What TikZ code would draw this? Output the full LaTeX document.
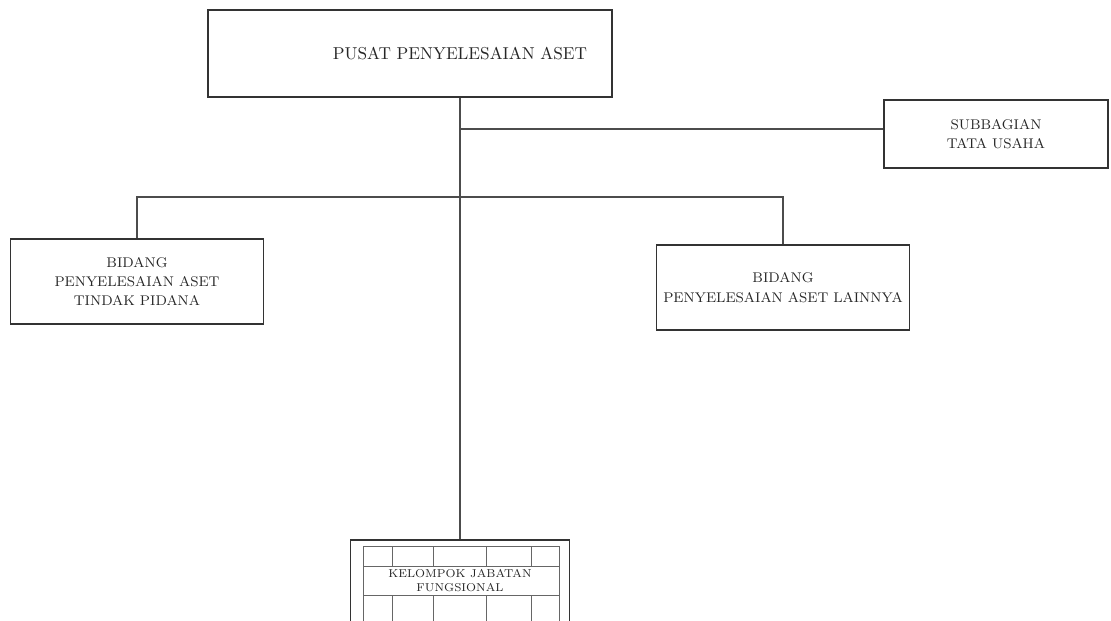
\documentclass[tikz,border=0pt]{standalone}
\begin{document}
\begin{tikzpicture}[x=0.02cm,y=-0.02cm,
  unit/.style={draw=black!80,line width=0.9pt,fill=white,inner sep=0pt,align=center,text=black!85,font=\fontsize{8}{11}\selectfont},
  link/.style={draw=black!70,line width=0.6pt},
  cell/.style={draw=black!60,line width=0.4pt}]
\useasboundingbox (0,0) rectangle (1111,620);
\clip (0,0) rectangle (1111,620);
\node [unit,minimum width=8.08cm,minimum height=1.74cm,
  label={[xshift=1cm,text=black!85,font=\fontsize{9.8}{12}\selectfont]center:PUSAT PENYELESAIAN ASET}] (pusat) at (410,53.5) {};
\node [unit,minimum width=4.48cm,minimum height=1.36cm] (subbag) at (996,134) {SUBBAGIAN\\TATA USAHA};
\node [unit,minimum width=5.06cm,minimum height=1.7cm] (tpd) at (137,281.5) {BIDANG\\PENYELESAIAN ASET\\TINDAK PIDANA};
\node [unit,minimum width=5.06cm,minimum height=1.7cm] (lain) at (783,287.5) {BIDANG\\PENYELESAIAN ASET LAINNYA};
\node [unit,minimum width=4.38cm,minimum height=1.86cm,anchor=north] (jf) at (460,539) {};
% kisi jabatan fungsional
\draw [cell] (363,546) rectangle (559,625);
\draw [cell] (363,566) -- (559,566) (363,595) -- (559,595);
\foreach \x in {392,433,486,531} \draw [cell] (\x,546) -- (\x,566) (\x,595) -- (\x,625);
\node [font=\fontsize{6.5}{8}\selectfont,align=center,inner sep=0pt,text=black!85] (jftext) at (460,580.5) {KELOMPOK JABATAN\\FUNGSIONAL};
% garis
\coordinate (sb) at (460,129);
\coordinate (bd) at (460,197);
\draw [link] (pusat.south -| jf.north) -- (jf.north);
\draw [link] (sb) -- (sb -| subbag.west);
\draw [link] (tpd.north) |- (bd) -| (lain.north);
\end{tikzpicture}
\end{document}
